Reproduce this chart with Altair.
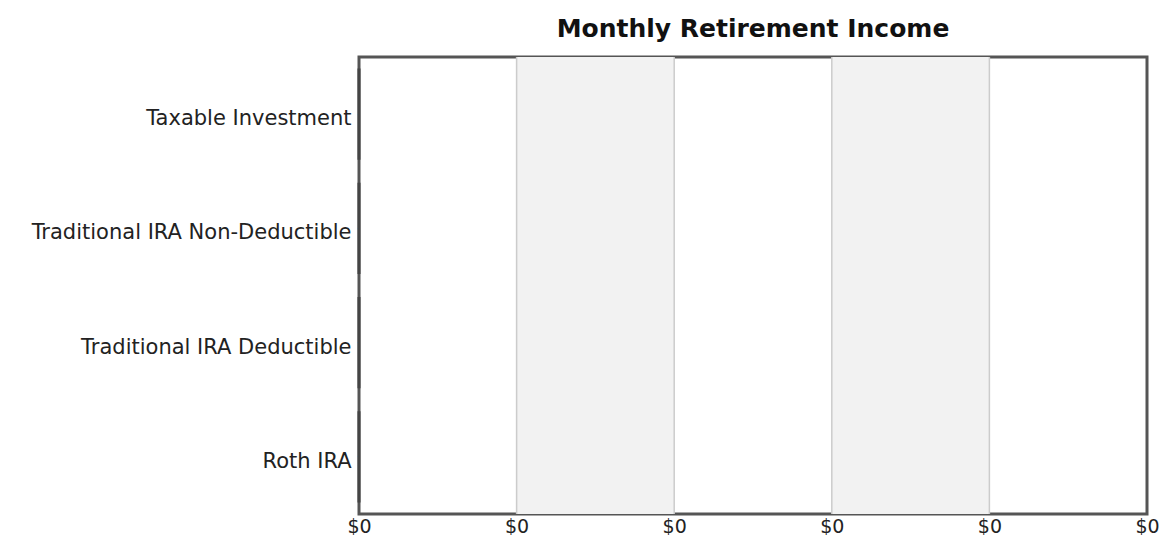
import altair as alt
import pandas as pd

categories = ["Taxable Investment", "Traditional IRA Non-Deductible", "Traditional IRA Deductible", "Roth IRA"]
income = [0, 0, 0, 0]
tick_values = [0, 1, 2, 3, 4, 5]
tick_labels = ["$0", "$0", "$0", "$0", "$0", "$0"]
band_start = [1, 3]
band_end = [2, 4]

bars_df = pd.DataFrame({"category": categories, "income": income})
bands_df = pd.DataFrame({"start": band_start, "end": band_end})
grid_df = pd.DataFrame({"v": tick_values[1:-1]})

label_map = "{" + ",".join(f"'{v}':'{l}'" for v, l in zip(tick_values, tick_labels)) + "}"

xscale = alt.Scale(domain=[tick_values[0], tick_values[-1]], nice=False, zero=True)

bands = alt.Chart(bands_df).mark_rect(color="#f2f2f2").encode(
    x=alt.X("start:Q", scale=xscale,
            axis=alt.Axis(values=tick_values, labelExpr=label_map + "[datum.value]",
                          title=None, grid=False, domain=False, ticks=False,
                          labelPadding=3, labelFontSize=19, labelFont="DejaVu Sans",
                          labelColor="#222222", labelOverlap=False, labelFlush=False)),
    x2="end:Q",
)

grid = alt.Chart(grid_df).mark_rule(color="#cccccc", strokeWidth=1.5).encode(
    x=alt.X("v:Q", scale=xscale),
)

bars = alt.Chart(bars_df).mark_bar(color="#444444", stroke="#444444", strokeWidth=3).encode(
    y=alt.Y("category:N", sort=categories,
            scale=alt.Scale(paddingInner=0.2, paddingOuter=0.1),
            axis=alt.Axis(title=None, domain=False, ticks=True, tickColor="#66aadd",
                          tickSize=2, labelPadding=6, labelFontSize=21, labelOffset=5,
                          labelFont="DejaVu Sans", labelColor="#222222", labelLimit=400)),
    x=alt.X("income:Q", scale=xscale),
)

chart = alt.layer(bands, grid, bars).properties(
    width=788,
    height=457,
    title=alt.TitleParams("Monthly Retirement Income", font="DejaVu Sans", fontSize=25,
                          fontWeight="bold", color="#111111", anchor="middle", offset=14),
    autosize=alt.AutoSizeParams(type="none"),
    padding={"left": 351, "top": 49, "right": 12, "bottom": 21},
).configure_view(stroke="#555555", strokeWidth=3)

chart.save("out.html", embed_options={"renderer": "svg", "actions": False})
